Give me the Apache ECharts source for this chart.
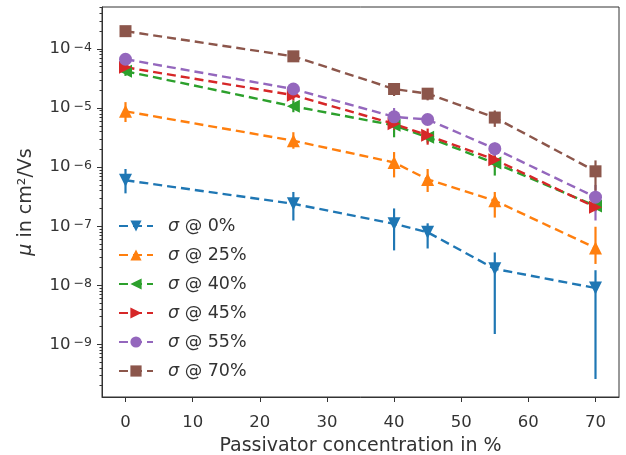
<!DOCTYPE html>
<html>
<head>
<meta charset="utf-8">
<script src="https://cdn.jsdelivr.net/npm/echarts@6/dist/echarts.min.js"></script>
<style>
  html, body { margin: 0; padding: 0; background: #fff; }
  #chart { width: 626px; height: 455px; }
</style>
</head>
<body>
<div id="chart"></div>
<script>
// passivator concentration (x)
const concentrations = [0, 25, 40, 45, 55, 70];
const seriesNames = ['σ @ 0%', 'σ @ 25%', 'σ @ 40%', 'σ @ 45%', 'σ @ 55%', 'σ @ 70%'];

// mobility values and error bar bounds, cm²/Vs
const sigma0 = [6.0e-7, 2.4e-7, 1.1e-7, 7.9e-8, 1.9e-8, 9.0e-9];
const sigma0Low = [3.6e-7, 1.25e-7, 3.9e-8, 4.2e-8, 1.5e-9, 2.6e-10];
const sigma0High = [9.3e-7, 3.8e-7, 2.0e-7, 1.12e-7, 3.6e-8, 1.8e-8];

const sigma25 = [8.8e-6, 2.8e-6, 1.2e-6, 6.2e-7, 2.7e-7, 4.3e-8];
const sigma25Low = [5.8e-6, 2.05e-6, 6.7e-7, 3.8e-7, 1.4e-7, 2.3e-8];
const sigma25High = [1.26e-5, 3.9e-6, 1.8e-6, 9.3e-7, 3.8e-7, 9.8e-8];

const sigma40 = [4.2e-5, 1.07e-5, 5.1e-6, 3.2e-6, 1.17e-6, 2.2e-7];
const sigma40Low = [3.5e-5, 8.5e-6, 3.2e-6, 2.6e-6, 7.2e-7, 1.8e-7];
const sigma40High = [4.9e-5, 1.35e-5, 7.0e-6, 3.8e-6, 1.6e-6, 2.6e-7];

const sigma45 = [4.9e-5, 1.65e-5, 5.4e-6, 3.45e-6, 1.34e-6, 2.1e-7];
const sigma45Low = [4.3e-5, 1.35e-5, 4.3e-6, 2.4e-6, 1.0e-6, 1.8e-7];
const sigma45High = [5.5e-5, 2.0e-5, 6.5e-6, 4.5e-6, 1.7e-6, 2.4e-7];

const sigma55 = [6.7e-5, 2.1e-5, 7.1e-6, 6.4e-6, 2.05e-6, 3.1e-7];
const sigma55Low = [6.0e-5, 1.8e-5, 4.5e-6, 5.5e-6, 1.55e-6, 1.25e-7];
const sigma55High = [7.4e-5, 2.4e-5, 1.0e-5, 7.3e-6, 2.6e-6, 5.0e-7];

const sigma70 = [2.0e-4, 7.5e-5, 2.1e-5, 1.75e-5, 6.9e-6, 8.5e-7];
const sigma70Low = [1.85e-4, 6.8e-5, 1.6e-5, 1.35e-5, 4.8e-6, 4.0e-7];
const sigma70High = [2.15e-4, 8.2e-5, 2.6e-5, 2.1e-5, 9.1e-6, 1.3e-6];

// tick labels
const xTicks = [0, 10, 20, 30, 40, 50, 60, 70];
const yTicks = [1e-9, 1e-8, 1e-7, 1e-6, 1e-5, 1e-4];

const values = [sigma0, sigma25, sigma40, sigma45, sigma55, sigma70];
const lows = [sigma0Low, sigma25Low, sigma40Low, sigma45Low, sigma55Low, sigma70Low];
const highs = [sigma0High, sigma25High, sigma40High, sigma45High, sigma55High, sigma70High];

const colors = ['#1f77b4', '#ff7f0e', '#2ca02c', '#d62728', '#9467bd', '#8c564b'];
const markers = [
  { symbol: 'triangle', rotate: 180 },
  { symbol: 'triangle', rotate: 0 },
  { symbol: 'triangle', rotate: 90 },
  { symbol: 'triangle', rotate: -90 },
  { symbol: 'circle', rotate: 0 },
  { symbol: 'rect', rotate: 0 }
];

const yMin = Math.pow(10, -9.89);
const yMax = Math.pow(10, -3.29);

// minor log ticks 2..9 x 10^n inside the range
const minorTicks = [];
for (let e = -10; e <= -4; e++) {
  for (let k = 2; k <= 9; k++) {
    const v = k * Math.pow(10, e);
    if (v > yMin && v < yMax) minorTicks.push(v);
  }
}

const textColor = '#333';
const axisColor = '#333';
const font = 'DejaVu Sans';

const series = [];
values.forEach((vals, i) => {
  const color = colors[i];
  series.push({
    type: 'custom',
    name: 'err' + i,
    silent: true,
    renderItem: (params, api) => {
      const x = api.value(0);
      const a = api.coord([x, api.value(1)]);
      const b = api.coord([x, api.value(2)]);
      return {
        type: 'line',
        shape: { x1: a[0], y1: a[1], x2: b[0], y2: b[1] },
        style: { stroke: color, lineWidth: 2.2 }
      };
    },
    encode: { x: 0, y: [1, 2] },
    data: concentrations.map((x, j) => [x, lows[i][j], highs[i][j]])
  });
  series.push({
    type: 'line',
    name: seriesNames[i],
    data: concentrations.map((x, j) => [x, vals[j]]),
    symbol: markers[i].symbol,
    symbolRotate: markers[i].rotate,
    symbolSize: markers[i].symbol === 'rect' ? 12 : 13,
    showAllSymbol: true,
    itemStyle: { color: color },
    lineStyle: { color: color, width: 2.4, type: [9, 5] },
    emphasis: { disabled: true }
  });
});

const chart = echarts.init(document.getElementById('chart'));
chart.setOption({
  animation: false,
  backgroundColor: '#fff',
  grid: {
    left: 102, right: 7, top: 7, bottom: 58,
    outerBoundsMode: 'none',
    containLabel: false,
    show: true, borderColor: axisColor, borderWidth: 1
  },
  legend: {
    data: seriesNames,
    orient: 'vertical',
    left: 113,
    top: 212,
    itemWidth: 34,
    itemHeight: 14,
    itemGap: 11,
    formatter: name => '{i|σ}' + name.slice(1),
    textStyle: {
      fontFamily: font, fontSize: 17.5, color: textColor, lineHeight: 17,
      padding: [0, 0, 0, 10],
      rich: { i: { fontFamily: font, fontSize: 17.5, fontStyle: 'italic', color: textColor } }
    }
  },
  xAxis: {
    type: 'value',
    min: -3.5,
    max: 73.5,
    name: 'Passivator concentration in %',
    nameLocation: 'middle',
    nameGap: 40,
    nameTextStyle: { fontFamily: font, fontSize: 19, color: textColor },
    axisLine: { onZero: false, lineStyle: { color: axisColor, width: 1 } },
    axisTick: { customValues: xTicks, length: 5, lineStyle: { color: axisColor } },
    axisLabel: { customValues: xTicks, fontFamily: font, fontSize: 16.5, color: textColor, margin: 17 },
    splitLine: { show: false }
  },
  yAxis: [
    {
      type: 'log',
      min: yMin,
      max: yMax,
      name: '{i|μ} in cm²/Vs',
      nameLocation: 'middle',
      nameGap: 66,
      nameTextStyle: {
        fontFamily: font, fontSize: 19, color: textColor,
        rich: { i: { fontFamily: font, fontSize: 19, fontStyle: 'italic', color: textColor } }
      },
      axisLine: { onZero: false, lineStyle: { color: axisColor, width: 1 } },
      axisTick: { customValues: yTicks, length: 5, lineStyle: { color: axisColor } },
      axisLabel: {
        customValues: yTicks,
        margin: 10,
        formatter: v => '{b|10}{s|−' + Math.abs(Math.round(Math.log10(v))) + '}',
        rich: {
          b: { fontFamily: font, fontSize: 16.5, lineHeight: 16, color: textColor },
          s: { fontFamily: font, fontSize: 12.5, lineHeight: 12, color: textColor, verticalAlign: 'top', padding: [0, 0, 0, 3] }
        }
      },
      splitLine: { show: false }
    },
    {
      type: 'log',
      min: yMin,
      max: yMax,
      position: 'left',
      axisLine: { show: false, onZero: false },
      axisTick: { customValues: minorTicks, length: 2.5, lineStyle: { color: axisColor } },
      axisLabel: { show: false },
      splitLine: { show: false }
    }
  ],
  series: series
});
</script>
</body>
</html>
